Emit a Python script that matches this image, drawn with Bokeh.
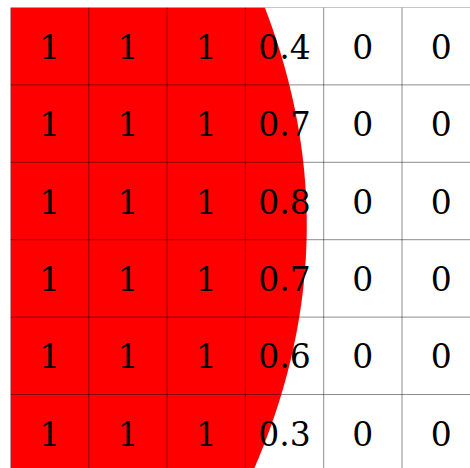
import numpy as np
from bokeh.plotting import figure
from bokeh.models import Range1d, ColumnDataSource
from bokeh.core.properties import value
from bokeh.embed import file_html
from bokeh.resources import INLINE

# Grid values (rows top to bottom)
row0 = [1, 1, 1, 0.4, 0, 0]
row1 = [1, 1, 1, 0.7, 0, 0]
row2 = [1, 1, 1, 0.8, 0, 0]
row3 = [1, 1, 1, 0.7, 0, 0]
row4 = [1, 1, 1, 0.6, 0, 0]
row5 = [1, 1, 1, 0.3, 0, 0]
rows = [row0, row1, row2, row3, row4, row5]

ncols = len(row0)
nrows = len(rows)

CELL_W = 78.3
CELL_H = 77.4
W = 470
H = 468
LB = 10
TB = 7

p = figure(width=W, height=H, output_backend="svg", toolbar_location=None,
           x_range=Range1d(0, (W - LB) / CELL_W),
           y_range=Range1d((H - TB) / CELL_H, 0),
           min_border_left=LB, min_border_top=TB, min_border_right=0, min_border_bottom=0)
p.axis.visible = False
p.xgrid.visible = False
p.ygrid.visible = False
p.outline_line_color = None
p.background_fill_color = "white"
p.border_fill_color = "white"

# Filled (coverage) region: boundary follows each row's total coverage (smooth fit)
ys = np.arange(nrows) + 0.5
xs = np.array([sum(r) for r in rows], dtype=float)
coef = np.polyfit(ys, xs, 2)
cy = np.linspace(0, nrows, 200)
cx = np.polyval(coef, cy)
px = [0] + list(cx) + [0]
py = [0] + list(cy) + [nrows]
p.patch(px, py, fill_color="#ff0000", line_color=None)

# Grid lines
p.segment(x0=list(range(ncols + 1)), y0=[0] * (ncols + 1),
          x1=list(range(ncols + 1)), y1=[nrows] * (ncols + 1),
          line_color="black", line_alpha=0.45, line_width=1)
p.segment(x0=[0] * (nrows + 1), y0=list(range(nrows + 1)),
          x1=[ncols] * (nrows + 1), y1=list(range(nrows + 1)),
          line_color="black", line_alpha=0.45, line_width=1)

# Labels
tx, ty, tt = [], [], []
for i, r in enumerate(rows):
    for j, v in enumerate(r):
        tx.append(j + 0.5)
        ty.append(i + 0.5)
        tt.append(str(int(v)) if float(v).is_integer() else str(v))
src = ColumnDataSource(dict(x=tx, y=ty, t=tt))
p.text(x="x", y="y", text="t", source=src, text_align="center", text_baseline="middle",
       text_font=value("DejaVu Serif"), text_font_size="33px", text_color="black")

open("out.html", "w").write(file_html(p, INLINE))
